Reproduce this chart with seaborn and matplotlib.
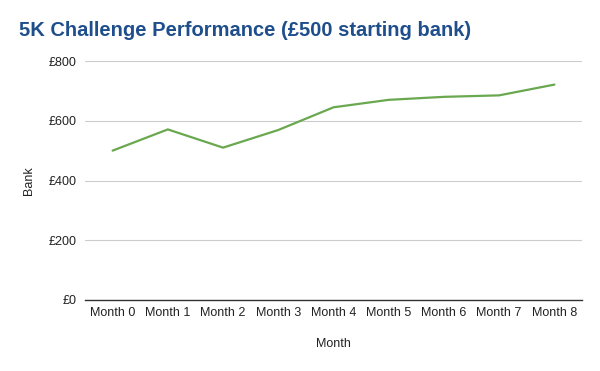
import matplotlib
matplotlib.use("Agg")
import matplotlib.pyplot as plt
import seaborn as sns
import pandas as pd
from matplotlib.ticker import FuncFormatter

months = ["Month 0", "Month 1", "Month 2", "Month 3", "Month 4",
          "Month 5", "Month 6", "Month 7", "Month 8"]
bank = [500, 571, 510, 569, 645, 670, 680, 685, 721]
y_ticks = [0, 200, 400, 600, 800]

sns.set_theme(style="white")
plt.rcParams['font.family'] = ['Liberation Sans', 'DejaVu Sans']

df = pd.DataFrame({"Month": months, "Bank": bank})

fig = plt.figure(figsize=(6, 3.71), dpi=100)
ax = fig.add_axes([85/600, 1-300/371, (582-85)/600, (300-61)/371])

sns.lineplot(data=df, x="Month", y="Bank", ax=ax, color="#6aa84f",
             linewidth=1.6, sort=False)

ax.set_xlim(-0.5, len(months) - 0.5)
ax.set_ylim(0, 800)
ax.set_yticks(y_ticks)
ax.yaxis.set_major_formatter(FuncFormatter(lambda v, p: f"£{int(v)}"))
ax.grid(axis="y", color="#cccccc", linewidth=0.8)
ax.set_axisbelow(True)
for s in ["top", "right", "left"]:
    ax.spines[s].set_visible(False)
ax.spines["bottom"].set_color("#333333")
ax.spines["bottom"].set_linewidth(1.0)
ax.tick_params(axis="both", length=0, labelsize=9, colors="#222222")
ax.tick_params(axis="y", pad=6)
ax.tick_params(axis="x", pad=5)

ax.set_xlabel("Month", fontsize=9, color="#222222", labelpad=14)
ax.set_ylabel("Bank", fontsize=9, color="#222222", labelpad=10)

fig.text(19/600, 1-31/371, "5K Challenge Performance (£500 starting bank)",
         fontsize=14.5, fontweight="bold", color="#1f4e8c", va="center", ha="left")

fig.savefig("out.png", dpi=100)
